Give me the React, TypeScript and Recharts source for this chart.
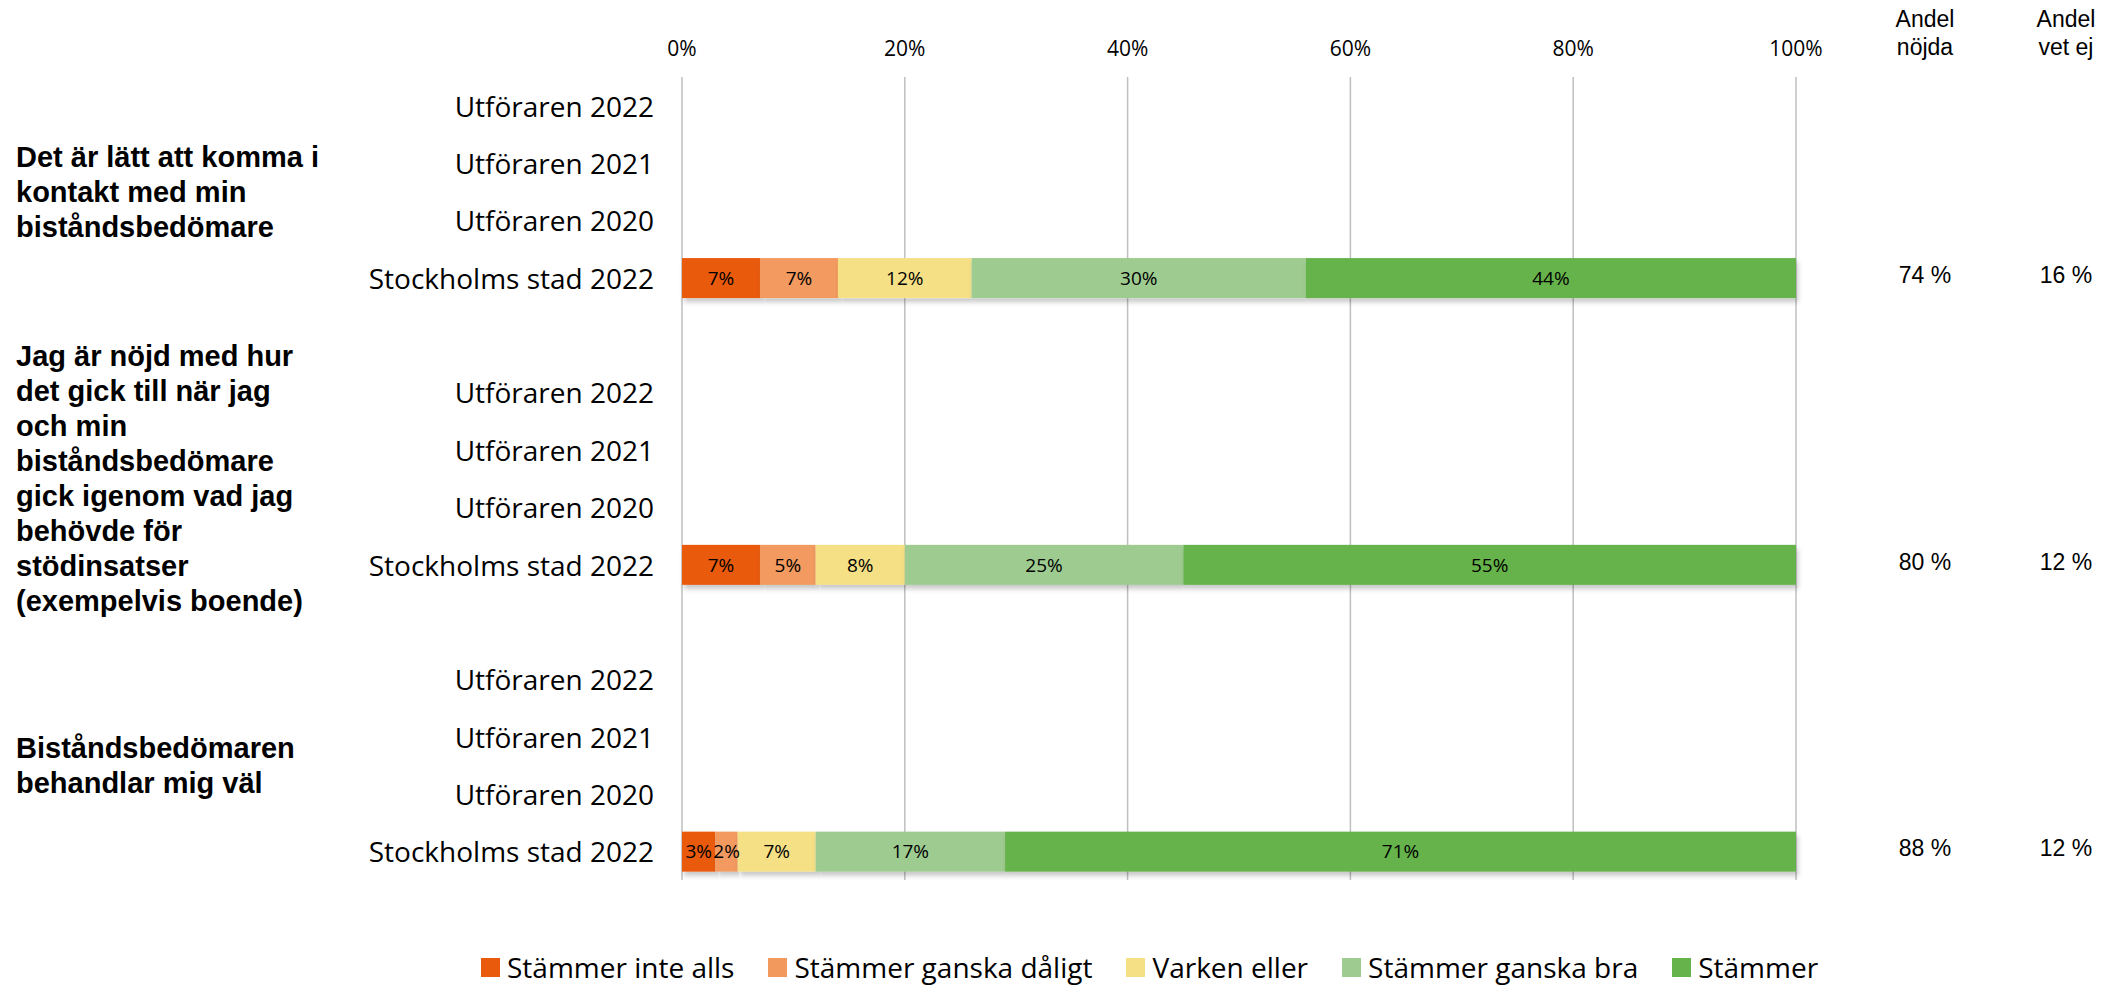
import React from 'react';
import { BarChart, Bar, XAxis, YAxis, CartesianGrid, LabelList } from 'recharts';

const W = 2113;
const H = 985;

const categories = ['Utföraren 2022', 'Utföraren 2021', 'Utföraren 2020', 'Stockholms stad 2022'];
const questionLines = [
  ['Det är lätt att komma i', 'kontakt med min', 'biståndsbedömare'],
  [
    'Jag är nöjd med hur',
    'det gick till när jag',
    'och min',
    'biståndsbedömare',
    'gick igenom vad jag',
    'behövde för',
    'stödinsatser',
    '(exempelvis boende)',
  ],
  ['Biståndsbedömaren', 'behandlar mig väl'],
];
const seriesNames = ['Stämmer inte alls', 'Stämmer ganska dåligt', 'Varken eller', 'Stämmer ganska bra', 'Stämmer'];
const seriesColors = ['#E95A0C', '#F29A5E', '#F5E086', '#9ECB90', '#66B34C'];

// Stockholms stad 2022, one value per question (%)
const inteAlls = [7, 7, 3];
const ganskaDaligt = [7, 5, 2];
const varkenEller = [12, 8, 7];
const ganskaBra = [30, 25, 17];
const stammer = [44, 55, 71];
const andelNojda = [74, 80, 88];
const andelVetEj = [16, 12, 12];
const xTicks = [0, 20, 40, 60, 80, 100];

const seriesValues = [inteAlls, ganskaDaligt, varkenEller, ganskaBra, stammer];

// plot box
const PLOT_LEFT = 682;
const PLOT_RIGHT = 1796;
const PLOT_TOP = 77;
const PLOT_BOTTOM = 880;

const SANS = "'Open Sans', sans-serif";
const ARIAL = "'Liberation Sans', Arial, sans-serif";

type Row = { key: string; label: string; q: number; pos: number; [k: string]: any };
const rows: Row[] = [];
questionLines.forEach((_, q) => {
  categories.forEach((c, pos) => {
    const row: Row = { key: `${q}-${pos}`, label: c, q, pos };
    if (pos === categories.length - 1) {
      seriesValues.forEach((vals, s) => {
        row[`s${s}`] = vals[q];
      });
    }
    rows.push(row);
  });
  if (q < questionLines.length - 1) rows.push({ key: `gap-${q}`, label: '', q, pos: -1 });
});
const rowByKey: Record<string, Row> = {};
rows.forEach((r) => (rowByKey[r.key] = r));

const BAND = (PLOT_BOTTOM - PLOT_TOP) / rows.length;
const COL_NOJDA = 1925;
const COL_VETEJ = 2066;

const RowTick = (props: any) => {
  const { y, payload } = props;
  const row = rowByKey[payload?.value];
  if (!row) return null;
  const lines = questionLines[row.q];
  const groupCenter = y + BAND / 2;
  return (
    <g>
      {row.key === '0-0' && (
        <g fontFamily={ARIAL} fontSize={23} fill="#000" textAnchor="middle">
          <text x={COL_NOJDA} y={19} dominantBaseline="central">Andel</text>
          <text x={COL_NOJDA} y={47} dominantBaseline="central">nöjda</text>
          <text x={COL_VETEJ} y={19} dominantBaseline="central">Andel</text>
          <text x={COL_VETEJ} y={47} dominantBaseline="central">vet ej</text>
        </g>
      )}
      {row.label && (
        <text x={PLOT_LEFT - 28} y={y} textAnchor="end" dominantBaseline="central" fontFamily={SANS} fontSize={28} fill="#000">
          {row.label}
        </text>
      )}
      {row.pos === 1 &&
        lines.map((ln, i) => (
          <text
            key={i}
            x={16}
            y={groupCenter + (i - (lines.length - 1) / 2) * 35}
            dominantBaseline="central"
            fontFamily={ARIAL}
            fontWeight="bold"
            fontSize={29}
            fill="#000"
          >
            {ln}
          </text>
        ))}
      {row.pos === categories.length - 1 && (
        <g fontFamily={ARIAL} fontSize={23} fill="#000" textAnchor="middle">
          <text x={COL_NOJDA} y={y - 3} dominantBaseline="central">{`${andelNojda[row.q]} %`}</text>
          <text x={COL_VETEJ} y={y - 3} dominantBaseline="central">{`${andelVetEj[row.q]} %`}</text>
        </g>
      )}
    </g>
  );
};

const PctTick = (props: any) => {
  const { x, payload } = props;
  return (
    <text x={x} y={48} textAnchor="middle" dominantBaseline="central" fontFamily={SANS} fontSize={21} fill="#000">
      {`${payload.value}%`}
    </text>
  );
};

const ShadowRect = (props: any) => {
  const { x, y, width, height, fill } = props;
  if (!width || !height) return <g />;
  return <rect x={x} y={y} width={width} height={height} fill={fill} filter="url(#barShadow)" />;
};

export default function App() {
  return (
    <div style={{ position: 'absolute', left: 0, top: 0, width: W, height: H, background: '#fff' }}>
      <BarChart
        width={W}
        height={H}
        data={rows}
        layout="vertical"
        barSize={40}
        margin={{ top: 0, right: W - PLOT_RIGHT, bottom: H - PLOT_BOTTOM, left: 0 }}
      >
        <defs>
          <filter id="barShadow" x="-5%" y="-20%" width="110%" height="160%">
            <feDropShadow dx={2} dy={4} stdDeviation={2.5} floodColor="#000" floodOpacity={0.22} />
          </filter>
        </defs>
        <CartesianGrid horizontal={false} stroke="#BFBFBF" strokeWidth={1.5} />
        <XAxis
          type="number"
          orientation="top"
          domain={[0, 100]}
          ticks={xTicks}
          height={PLOT_TOP}
          axisLine={false}
          tickLine={false}
          tick={<PctTick />}
          interval={0}
        />
        <YAxis
          type="category"
          dataKey="key"
          width={PLOT_LEFT}
          axisLine={false}
          tickLine={false}
          tick={<RowTick />}
          interval={0}
        />
        {seriesNames.map((name, i) => (
          <Bar
            key={name}
            name={name}
            dataKey={`s${i}`}
            stackId="a"
            fill={seriesColors[i]}
            shape={<ShadowRect />}
            isAnimationActive={false}
          >
            <LabelList
              dataKey={`s${i}`}
              position="center"
              formatter={(v: any) => (v == null ? '' : `${v}%`)}
              fill="#000"
              fontSize={19}
              fontFamily={SANS}
            />
          </Bar>
        ))}
      </BarChart>
      <div
        style={{
          position: 'absolute',
          left: 481,
          top: 950,
          display: 'flex',
          alignItems: 'center',
          gap: 34,
          fontFamily: SANS,
          fontSize: 28,
          lineHeight: '34px',
          color: '#000',
          whiteSpace: 'nowrap',
        }}
      >
        {seriesNames.map((name, i) => (
          <div key={name} style={{ display: 'flex', alignItems: 'center' }}>
            <span style={{ width: 19, height: 19, background: seriesColors[i], marginRight: 7, display: 'inline-block' }} />
            <span>{name}</span>
          </div>
        ))}
      </div>
    </div>
  );
}
